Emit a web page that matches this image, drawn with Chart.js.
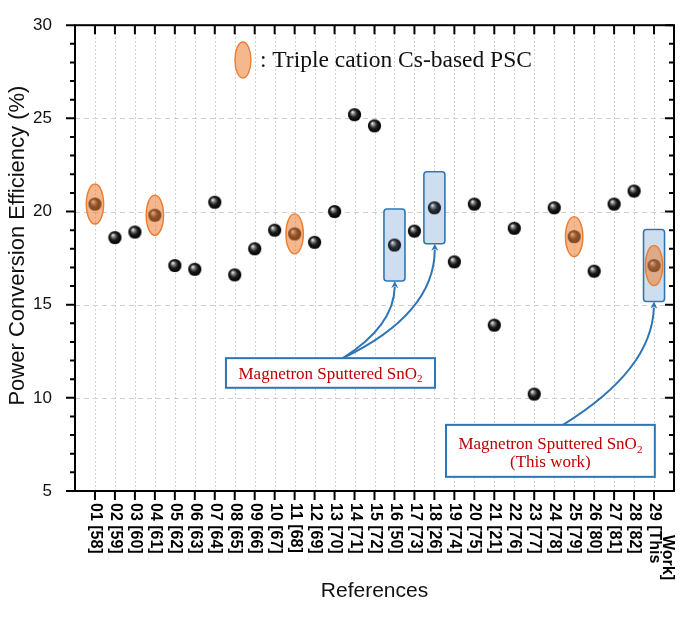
<!DOCTYPE html>
<html><head><meta charset="utf-8">
<script src="https://cdn.jsdelivr.net/npm/chart.js@4.4.0/dist/chart.umd.min.js"></script>
<style>html,body{margin:0;padding:0;background:#fff;}#wrap{width:685px;height:621px;}</style>
</head><body><div id="wrap"><canvas id="c" width="685" height="621"></canvas></div>
<script>
const refs = ['01 [58]','02 [59]','03 [60]','04 [61]','05 [62]','06 [63]','07 [64]','08 [65]','09 [66]','10 [67]',
  '11 [68]','12 [69]','13 [70]','14 [71]','15 [72]','16 [50]','17 [73]','18 [26]','19 [74]','20 [75]',
  '21 [21]','22 [76]','23 [77]','24 [78]','25 [79]','26 [80]','27 [81]','28 [82]','29 [This Work]'];
const pce = [20.4,18.6,18.9,19.8,17.1,16.9,20.5,16.6,18.0,19.0,
  18.8,18.35,20.0,25.2,24.6,18.2,18.95,20.2,17.3,20.4,
  13.9,19.1,10.2,20.2,18.65,16.8,20.4,21.1,17.1];
const tripleCation = [1,4,11,25,29];
const sputtered = [16,18,29];
const yTicks = [5,10,15,20,25,30];
const yTitle = 'Power Conversion Efficiency (%)';
const legendText = ': Triple cation Cs-based PSC';
const boxMain = 'Magnetron Sputtered SnO';
const boxSub = '2';
const boxLine2 = '(This work)';

function sphere(){
  const s = 15, c = document.createElement('canvas'); c.width = s; c.height = s;
  const g = c.getContext('2d'); const r = 6.6, cx = s/2, cy = s/2;
  const gr = g.createRadialGradient(cx-2.2, cy-2.6, 0.3, cx, cy, r);
  gr.addColorStop(0, '#f2f2f2'); gr.addColorStop(0.22, '#8a8a8a'); gr.addColorStop(0.55, '#1c1c1c'); gr.addColorStop(1, '#000');
  g.fillStyle = gr; g.beginPath(); g.arc(cx, cy, r, 0, Math.PI*2); g.fill();
  return c;
}
const ball = sphere();
const points = pce.map((v,i)=>({x:i+1, y:v}));
const RH = 36, RW = 10.5;

const deco = {
  id:'deco',
  beforeDatasetsDraw(chart){
    const {ctx, chartArea:a, scales:{x:xs, y:ys}} = chart;
    const X = v=>xs.getPixelForValue(v), Y = v=>ys.getPixelForValue(v);
    ctx.save();
    ctx.lineWidth = 1;
    ctx.strokeStyle = '#c4c4c4'; ctx.setLineDash([1.5,2.5]);
    refs.forEach((r,i)=>{ const px = Math.round(X(i+1))+0.5; ctx.beginPath(); ctx.moveTo(px,a.top); ctx.lineTo(px,a.bottom); ctx.stroke(); });
    ctx.strokeStyle = '#cfcfcf'; ctx.setLineDash([5,4]);
    yTicks.slice(1,-1).forEach(v=>{ const py = Math.round(Y(v))+0.5; ctx.beginPath(); ctx.moveTo(a.left,py); ctx.lineTo(a.right,py); ctx.stroke(); });
    ctx.setLineDash([]);
    sputtered.forEach(n=>{
      const cx = X(n), cy = Y(pce[n-1]);
      ctx.beginPath(); ctx.roundRect(cx-RW, cy-RH, RW*2, RH*2, 3);
      ctx.fillStyle = '#dce9f6'; ctx.fill();
      ctx.strokeStyle = '#2e75b6'; ctx.lineWidth = 1.6; ctx.stroke();
    });
    ctx.restore();
  },
  afterDatasetsDraw(chart){
    const {ctx, chartArea:a, scales:{x:xs, y:ys}} = chart;
    const X = v=>xs.getPixelForValue(v), Y = v=>ys.getPixelForValue(v);
    ctx.save();
    sputtered.forEach(n=>{
      const cx = X(n), cy = Y(pce[n-1]);
      ctx.beginPath(); ctx.roundRect(cx-RW+1, cy-RH+1, RW*2-2, RH*2-2, 2);
      ctx.fillStyle = 'rgba(120,160,210,0.15)'; ctx.fill();
    });
    const ell = (cx,cy,rx,ry)=>{ ctx.beginPath(); ctx.ellipse(cx,cy,rx,ry,0,0,Math.PI*2);
      ctx.fillStyle='rgba(237,125,49,0.55)'; ctx.fill(); ctx.strokeStyle='#ed7d31'; ctx.lineWidth=1.4; ctx.stroke(); };
    tripleCation.forEach(n=> ell(X(n), Y(pce[n-1]), 8.7, 20));
    const lx = X(8.41), ly = Y(28.13);
    ell(lx, ly, 8, 18);
    ctx.fillStyle = '#111'; ctx.font = '23.5px "Liberation Serif"'; ctx.textBaseline = 'middle'; ctx.textAlign = 'left';
    ctx.fillText(legendText, lx+17, ly+1);

    const arrow = (sx,sy,cx,cy,ex,ey)=>{
      ctx.strokeStyle = '#2e75b6'; ctx.fillStyle = '#2e75b6'; ctx.lineWidth = 2;
      const ang = Math.atan2(ey-cy, ex-cx);
      const hl = 7, hw = 3.5;
      const bx = ex - Math.cos(ang)*hl, by = ey - Math.sin(ang)*hl;
      ctx.beginPath(); ctx.moveTo(sx,sy); ctx.quadraticCurveTo(cx,cy,bx+Math.cos(ang),by+Math.sin(ang)); ctx.stroke();
      ctx.beginPath(); ctx.moveTo(ex,ey);
      ctx.lineTo(bx - Math.sin(ang)*hw, by + Math.cos(ang)*hw);
      ctx.lineTo(bx + Math.cos(ang)*2, by + Math.sin(ang)*2);
      ctx.lineTo(bx + Math.sin(ang)*hw, by - Math.cos(ang)*hw);
      ctx.closePath(); ctx.fill();
    };
    const endY = n => Y(pce[n-1]) + RH;
    arrow(X(13.42), Y(12.13), X(15.97), Y(13.86), X(16.02), endY(16));
    arrow(X(13.42), Y(12.13), X(18.0), Y(14.5), X(18.02), endY(18));
    arrow(X(24.44), Y(8.55), X(28.9), Y(11.5), X(29.0), endY(29));

    const box = (x1,y1,x2,y2)=>{ const l=X(x1), r=X(x2), t=Y(y1), b=Y(y2);
      ctx.fillStyle='#fff'; ctx.fillRect(l,t,r-l,b-t); ctx.strokeStyle='#2e75b6'; ctx.lineWidth=2; ctx.strokeRect(l,t,r-l,b-t);
      return {l,r,t,b,cx:(l+r)/2, cy:(t+b)/2}; };
    const sno2 = (cx, cy)=>{
      ctx.fillStyle = '#c00000'; ctx.textBaseline='alphabetic'; ctx.textAlign='left';
      ctx.font = '17px "Liberation Serif"'; const w1 = ctx.measureText(boxMain).width;
      ctx.font = '11px "Liberation Serif"'; const w2 = ctx.measureText(boxSub).width;
      const sx = cx - (w1+w2)/2, base = cy + 6;
      ctx.font = '17px "Liberation Serif"'; ctx.fillText(boxMain, sx, base);
      ctx.font = '11px "Liberation Serif"'; ctx.fillText(boxSub, sx+w1, base+3.5);
    };
    const b1 = box(7.56, 12.13, 18.03, 10.54);
    sno2(b1.cx, b1.cy);
    const b2 = box(18.58, 8.55, 29.04, 5.76);
    sno2(b2.cx, b2.cy-7.5);
    ctx.fillStyle = '#c00000'; ctx.font = '17px "Liberation Serif"'; ctx.textAlign='center'; ctx.textBaseline='alphabetic';
    ctx.fillText(boxLine2, b2.cx, b2.cy + 16.5);

    ctx.strokeStyle = '#000'; ctx.lineWidth = 2;
    ctx.strokeRect(a.left, a.top, a.right-a.left, a.bottom-a.top);
    ctx.beginPath();
    refs.forEach((r,i)=>{ const px = X(i+1);
      ctx.moveTo(px, a.bottom); ctx.lineTo(px, a.bottom+9);
      ctx.moveTo(px, a.top); ctx.lineTo(px, a.top+9); });
    for (let v = yTicks[0]; v <= yTicks[yTicks.length-1]; v++){
      const py = Y(v), len = yTicks.includes(v) ? 9 : 5;
      ctx.moveTo(a.left, py); ctx.lineTo(a.left-len, py);
      ctx.moveTo(a.right, py); ctx.lineTo(a.right-len, py);
    }
    ctx.stroke();
    ctx.fillStyle = '#000'; ctx.font = 'bold 16px "Liberation Sans"'; ctx.textAlign='left'; ctx.textBaseline='middle';
    refs.forEach((r,i)=>{
      ctx.save(); ctx.translate(X(i+1)+0.5, a.bottom+12); ctx.rotate(Math.PI/2);
      const w = ctx.measureText(r).width;
      if (w > 62) {
        const k = r.lastIndexOf(' ');
        ctx.fillText(r.slice(0,k), 0, 0);
        ctx.fillText(r.slice(k+1), 32, -13);
      } else ctx.fillText(r,0,0);
      ctx.restore();
    });
    ctx.save(); ctx.fillStyle = '#111'; ctx.font = '22px "Liberation Sans"'; ctx.textAlign='center'; ctx.textBaseline='middle';
    ctx.translate(18, Y(18.17)); ctx.rotate(-Math.PI/2); ctx.fillText(yTitle, 0, 0); ctx.restore();
    ctx.restore();
  }
};

new Chart(document.getElementById('c'), {
  type:'scatter',
  data:{ datasets:[{ data: points, pointStyle: ball, pointRadius: 7, pointHoverRadius: 7 }] },
  options:{
    responsive:false, animation:false, devicePixelRatio:1,
    layout:{ padding:{ top:9, right:11, bottom:0, left:0 } },
    plugins:{ legend:{display:false}, tooltip:{enabled:false} },
    scales:{
      x:{ type:'linear', min:0, max:30, afterFit(s){ s.height = 130; },
        ticks:{ display:false }, grid:{ display:false }, border:{ display:false },
        title:{ display:true, text:'References', color:'#111', font:{ family:'Liberation Sans', size:21 }, padding:{ top:0, bottom:17 } } },
      y:{ type:'linear', min:5, max:30, afterFit(s){ s.width = 75; },
        afterBuildTicks(s){ s.ticks = yTicks.map(v=>({value:v})); },
        ticks:{ padding:15, color:'#111', font:{ family:'Liberation Sans', size:17 } },
        grid:{ display:false }, border:{ display:false },
        title:{ display:false } }
    }
  },
  plugins:[deco]
});
</script></body></html>
